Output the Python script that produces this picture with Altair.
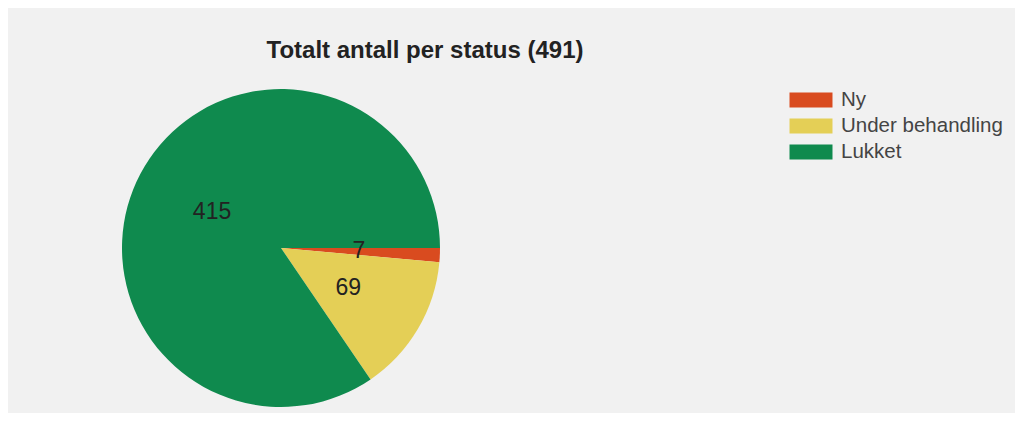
import math
import altair as alt
import pandas as pd

statuses = ["Ny", "Under behandling", "Lukket"]
counts = [7, 69, 415]
colors = ["#d94b1f", "#e4cf56", "#0f8a4e"]
order_idx = [0, 1, 2]
title_text = "Totalt antall per status (491)"

df = pd.DataFrame({"status": statuses, "count": counts, "order": order_idx})

cx, cy = 273, 240

base = alt.Chart(df).encode(
    theta=alt.Theta("count:Q", stack=True,
                    scale=alt.Scale(range=[math.pi / 2, math.pi / 2 + 2 * math.pi])),
    order=alt.Order("order:Q"),
    x=alt.value(cx),
    y=alt.value(cy),
)

pie = base.mark_arc(outerRadius=159).encode(
    color=alt.Color(
        "status:N",
        scale=alt.Scale(domain=statuses, range=colors),
        legend=alt.Legend(
            orient="none", legendX=792, legendY=81, title=None,
            symbolType="M-2,-0.7H2V0.7H-2Z", symbolSize=462,
            symbolStrokeWidth=0, symbolOpacity=1,
            labelFontSize=20.5, labelFont="Liberation Sans", labelColor="#444444",
            labelOffset=19, rowPadding=4, labelLimit=400,
        ),
    )
)

labels = base.mark_text(radius=78, fontSize=23, font="Liberation Sans",
                        color="#222222").encode(text="count:Q")

title = alt.Chart(pd.DataFrame({"t": [title_text]})).mark_text(
    fontSize=24, fontWeight="bold", font="Liberation Sans", color="#222222",
    baseline="alphabetic", align="center",
).encode(x=alt.value(417), y=alt.value(50), text="t:N")

chart = alt.layer(pie, labels, title).properties(
    width=1007, height=405, background="#f1f1f1", padding=0,
    autosize=alt.AutoSizeParams(type="none"),
).configure_view(strokeWidth=0)

chart.save("out.html", embed_options={"renderer": "svg", "actions": False})
